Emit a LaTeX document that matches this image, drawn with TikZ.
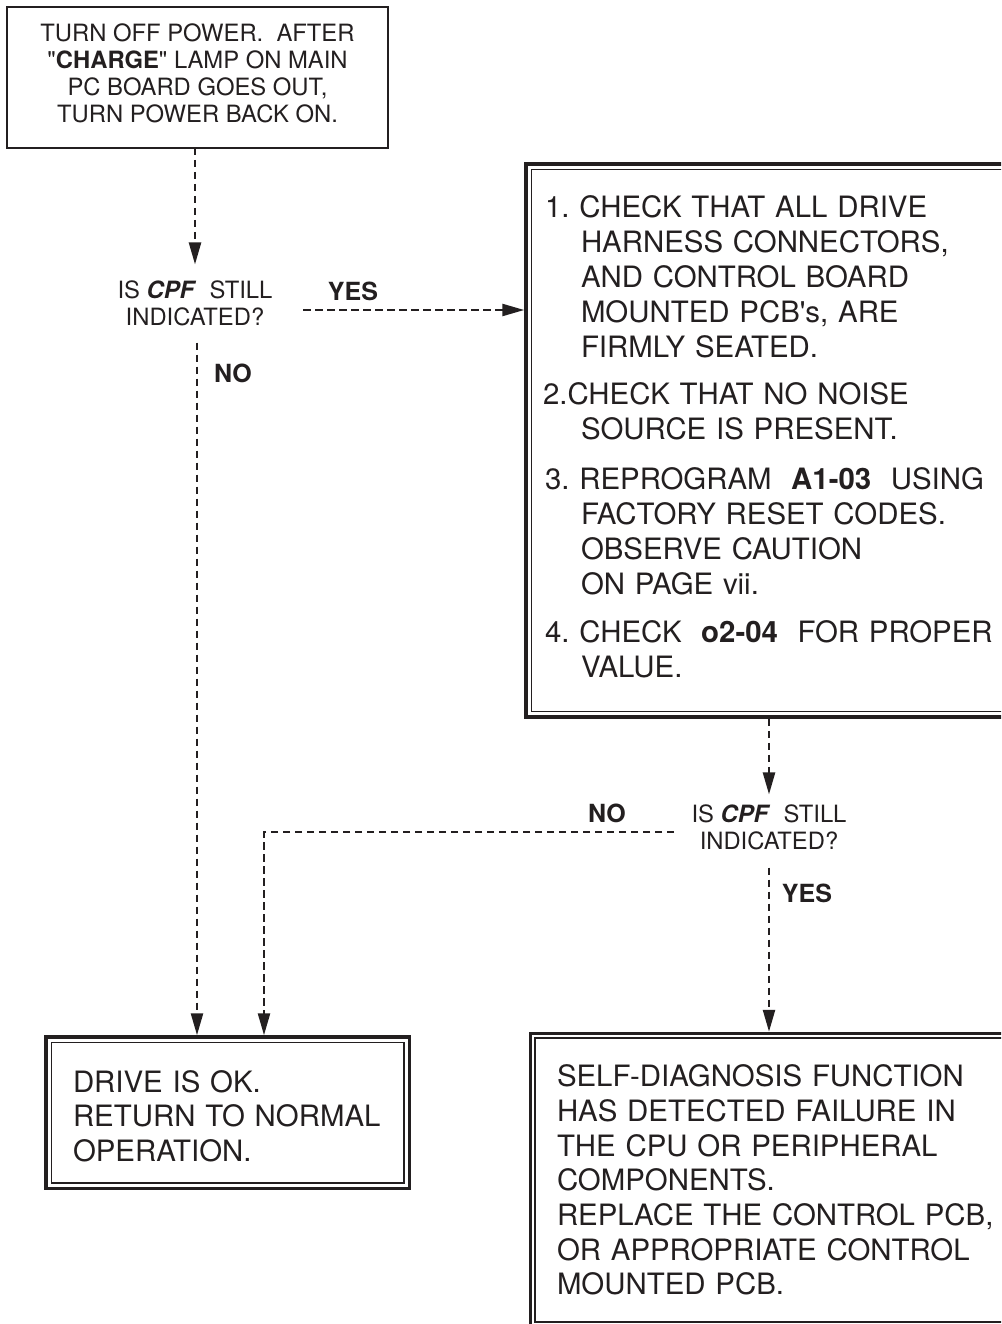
\documentclass[tikz,border=0pt]{standalone}
\usepackage{fontspec}
\setmainfont{TeX Gyre Heros}
\usetikzlibrary{arrows.meta,fit}
\definecolor{ink}{HTML}{231F20}
\newcommand\askfont{\fontsize{23.8}{27.5}\selectfont}
\newcommand\topfont{\fontsize{23.8}{27}\selectfont}
\newcommand\lblfont{\fontsize{25}{30}\selectfont\bfseries}
\newcommand\boxfontA{\fontsize{29.4}{35}\selectfont}
\newcommand\boxfontB{\fontsize{29.4}{34.5}\selectfont}
\newcommand\boxfontC{\fontsize{29.4}{34.7}\selectfont}
\newcommand\ind{\hspace*{36pt}}
\frenchspacing
\tikzset{
  conn/.style={draw=ink, line width=2.4pt, dash pattern=on 7.5pt off 4.5pt, -{Triangle[length=22pt,width=12pt]}},
  plainbox/.style={draw=ink, line width=1.3pt, rectangle, outer sep=0pt, inner sep=0pt},
  innerbox/.style={draw=ink, line width=1.3pt, rectangle, outer sep=0pt, align=left, anchor=north west, inner ysep=0pt},
  outerbox/.style={draw=ink, line width=3.5pt, rectangle, inner sep=5.5pt},
  ask/.style={align=center, inner xsep=0pt, font=\askfont, text=ink},
  lbl/.style={inner sep=0pt, font=\lblfont, text=ink},
}
\begin{document}
\begin{tikzpicture}[x=1pt, y=-1pt]
\useasboundingbox (0,0) rectangle (1001,1324);
\fill[white] (0,0) rectangle (1001,1324);
\clip (0,0) rectangle (1001,1324);

% top box
\node[plainbox, minimum width=381pt, minimum height=141pt, align=center, font=\topfont, text=ink] (top) at (197.5,77.5)
  {TURN OFF POWER.~~AFTER\\ \textquotedbl\textbf{CHARGE}\textquotedbl{} LAMP ON MAIN\\ PC BOARD GOES OUT,\\ TURN POWER BACK ON.\rule[-9pt]{0pt}{0pt}};

% first question
\node[ask, inner ysep=16pt] (d1) at (195,303.5) {IS \textbf{\textit{CPF}}~~STILL\\ INDICATED?};

% check box
\node[innerbox, text width=470pt, inner xsep=13.5pt, minimum height=542pt, font=\boxfontA, text=ink] (b1) at (531.5,169.5) {%
1. CHECK THAT ALL DRIVE\\
\ind HARNESS CONNECTORS,\\
\ind AND CONTROL BOARD\\
\ind MOUNTED PCB\textquotesingle s, ARE\\
\ind FIRMLY SEATED.\\[12pt]
\hspace*{-2pt}2.CHECK THAT NO NOISE\\
\ind SOURCE IS PRESENT.\\[15pt]
3. REPROGRAM~~\textbf{A1-03}~~USING\\
\ind FACTORY RESET CODES.\\
\ind OBSERVE CAUTION\\
\ind ON PAGE vii.\\[13pt]
4. CHECK~~\textbf{o2-04}~~FOR PROPER\\
\ind VALUE.\rule[-7.6pt]{0pt}{0pt}};
\node[outerbox, fit=(b1)] (b1o) {};

% second question
\node[ask, inner ysep=10pt] (d2) at (769,827.5) {IS \textbf{\textit{CPF}}~~STILL\\ INDICATED?};

% OK box
\node[innerbox, text width=309.5pt, inner xsep=21.5pt, minimum height=140.5pt, font=\boxfontB, text=ink] (ok) at (51.5,1042.5)
  {\rule{0pt}{29pt}DRIVE IS OK.\\ RETURN TO NORMAL\\ OPERATION.};
\node[outerbox, fit=(ok)] (oko) {};

% failure box
\node[innerbox, text width=470pt, inner xsep=22pt, minimum height=284pt, font=\boxfontC, text=ink] (b2) at (535,1038) {%
SELF-DIAGNOSIS FUNCTION\\
HAS DETECTED FAILURE IN\\
THE CPU OR PERIPHERAL\\
COMPONENTS.\\
REPLACE THE CONTROL PCB,\\
OR APPROPRIATE CONTROL\\
MOUNTED PCB.};
\node[outerbox, fit=(b2), inner sep=4.5pt] (b2o) {};

% labels
\node[lbl] (yes1) at (353,291) {YES};
\node[lbl] (no1) at (233,373) {NO};
\node[lbl] (no2) at (607,813) {NO};
\node[lbl] (yes2) at (807,893) {YES};

% connectors
\coordinate (ys) at (303,310);
\coordinate (ns) at (674,832);
\coordinate (nc) at (264,832);
\draw[conn] (d1.north |- top.south) -- (d1.north);
\draw[conn] (ys) -- (ys -| b1o.west);
\draw[conn] ([xshift=2pt]d1.south) -- ([xshift=2pt]d1.south |- oko.north);
\draw[conn] (d2.north |- b1o.south) -- (d2.north);
\draw[conn] (ns) -- (nc) -- (nc |- oko.north);
\draw[conn] ([yshift=-7pt]d2.south) -- (d2.south |- b2o.north);
\end{tikzpicture}
\end{document}
